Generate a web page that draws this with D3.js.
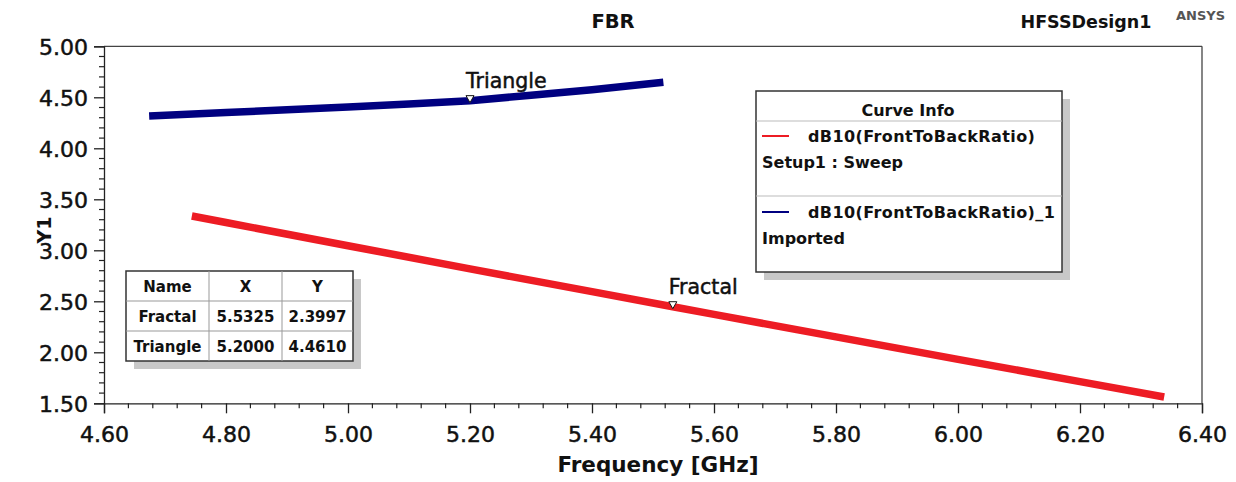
<!DOCTYPE html>
<html><head><meta charset="utf-8">
<script src="https://cdn.jsdelivr.net/npm/d3@7"></script>
<style>body{margin:0;background:#fff}svg{display:block}text{font-family:"DejaVu Sans",sans-serif}</style>
</head><body><svg id="c" width="1236" height="482"></svg>
<script>
// ---- data ----
const fractalX = [4.744, 4.80, 5.00, 5.20, 5.40, 5.5325, 5.60, 5.80, 6.00, 6.20, 6.338];
const fractalY = [3.336, 3.272, 3.045, 2.818, 2.595, 2.447, 2.372, 2.151, 1.931, 1.713, 1.562];
const triangleX = [4.674, 4.80, 4.90, 5.00, 5.10, 5.20, 5.30, 5.40, 5.517];
const triangleY = [4.317, 4.35, 4.377, 4.405, 4.435, 4.467, 4.52, 4.575, 4.648];
const xTicks = [4.60, 4.80, 5.00, 5.20, 5.40, 5.60, 5.80, 6.00, 6.20, 6.40];
const yTicks = [1.50, 2.00, 2.50, 3.00, 3.50, 4.00, 4.50, 5.00];
const markerNames = ["Fractal", "Triangle"];
const markerX = [5.5325, 5.2000];
const markerYText = ["2.3997", "4.4610"];
const markerXText = ["5.5325", "5.2000"];
const legendNames = ["dB10(FrontToBackRatio)", "dB10(FrontToBackRatio)_1"];
const legendSources = ["Setup1 : Sweep", "Imported"];
const seriesColors = ["#ed1c24", "#000080"];

const svg = d3.select("#c");
const L = 104, R = 1202, T = 46.3, B = 403.3;
const x = d3.scaleLinear().domain([4.6, 6.4]).range([L, R]);
const y = d3.scaleLinear().domain([1.5, 5.0]).range([B, T]);

// titles
svg.append("text").attr("x", 613).attr("y", 28).attr("text-anchor", "middle")
  .attr("font-size", 19.5).attr("font-weight", "bold").attr("fill", "#111").text("FBR");
svg.append("text").attr("x", 1086).attr("y", 28).attr("text-anchor", "middle")
  .attr("font-size", 17.5).attr("font-weight", "bold").attr("fill", "#111").text("HFSSDesign1");
svg.append("text").attr("x", 1176).attr("y", 20).attr("font-size", 13)
  .attr("font-weight", "bold").attr("fill", "#555").text("ANSYS");

// frame
svg.append("line").attr("x1", L).attr("x2", R).attr("y1", T).attr("y2", T).attr("stroke", "#444").attr("stroke-width", 1.3);
svg.append("line").attr("x1", R).attr("x2", R).attr("y1", T).attr("y2", B).attr("stroke", "#444").attr("stroke-width", 1.3);

// minor ticks
const xMinor = d3.range(4.6, 6.4001, 0.04).filter(v => Math.abs(Math.round(v * 5) - v * 5) > 1e-6);
const yMinor = d3.range(1.5, 5.0001, 0.1).filter(v => Math.abs(Math.round(v * 2) - v * 2) > 1e-6);
svg.append("g").selectAll("line").data(xMinor).join("line")
  .attr("x1", d => x(d)).attr("x2", d => x(d)).attr("y1", B).attr("y2", B + 5).attr("stroke", "#222").attr("stroke-width", 1.2);
svg.append("g").selectAll("line").data(yMinor).join("line")
  .attr("x1", L - 5).attr("x2", L).attr("y1", d => y(d)).attr("y2", d => y(d)).attr("stroke", "#222").attr("stroke-width", 1.2);

// axes
const xAxis = svg.append("g").attr("transform", `translate(0,${B})`)
  .call(d3.axisBottom(x).tickValues(xTicks).tickFormat(d3.format(".2f")).tickSize(10).tickPadding(8));
const yAxis = svg.append("g").attr("transform", `translate(${L},0)`)
  .call(d3.axisLeft(y).tickValues(yTicks).tickFormat(d3.format(".2f")).tickSize(10).tickPadding(6));
[xAxis, yAxis].forEach(g => {
  g.select(".domain").attr("stroke", "#222").attr("stroke-width", 1.3);
  g.selectAll(".tick line").attr("stroke", "#222").attr("stroke-width", 1.3);
  g.selectAll(".tick text").attr("font-family", "DejaVu Sans").attr("font-size", 22).attr("fill", "#111")
    .attr("stroke", "#111").attr("stroke-width", 0.5);
});
yAxis.selectAll(".tick text").attr("dy", "0.36em");
xAxis.selectAll(".tick text").attr("dy", "0.95em");

svg.append("text").attr("x", 658).attr("y", 472).attr("text-anchor", "middle")
  .attr("font-size", 21.5).attr("font-weight", "bold").attr("fill", "#111").text("Frequency [GHz]");
svg.append("text").attr("transform", "translate(51,230) rotate(-90)").attr("text-anchor", "middle")
  .attr("font-size", 19).attr("font-weight", "bold").attr("fill", "#111").text("Y1");

// curves
const line = d3.line().x(d => x(d[0])).y(d => y(d[1]));
const series = [d3.zip(fractalX, fractalY), d3.zip(triangleX, triangleY)];
svg.append("g").selectAll("path").data(series).join("path")
  .attr("d", line).attr("fill", "none").attr("stroke", (d, i) => seriesColors[i])
  .attr("stroke-width", 7.5).attr("stroke-linecap", "butt");

// markers (placed on the curve at marker X)
const interp = (xs, ys, v) => { const i = d3.bisectRight(xs, v) - 1; const t = (v - xs[i]) / (xs[i + 1] - xs[i]); return ys[i] + t * (ys[i + 1] - ys[i]); };
const markerYPos = [interp(fractalX, fractalY, markerX[0]), interp(triangleX, triangleY, markerX[1])];
markerX.forEach((mx, i) => {
  const px = x(mx), py = y(markerYPos[i]);
  svg.append("path").attr("d", `M${px - 4},${py - 5}L${px + 4},${py - 5}L${px},${py + 2}Z`)
    .attr("fill", "#fff").attr("stroke", "#111").attr("stroke-width", 1);
  svg.append("text").attr("x", px - 4).attr("y", py - 13).attr("font-size", 20.5).attr("fill", "#111")
    .attr("stroke", "#111").attr("stroke-width", 0.5).text(markerNames[i]);
});

// legend
const lg = svg.append("g");
lg.append("rect").attr("x", 764).attr("y", 99).attr("width", 306).attr("height", 181).attr("fill", "#c8c8c8");
lg.append("rect").attr("x", 756).attr("y", 91).attr("width", 306).attr("height", 181).attr("fill", "#fff").attr("stroke", "#333").attr("stroke-width", 1.5);
lg.append("text").attr("x", 908).attr("y", 116).attr("text-anchor", "middle").attr("font-size", 16).attr("font-weight", "bold").attr("fill", "#111").text("Curve Info");
lg.append("line").attr("x1", 756).attr("x2", 1062).attr("y1", 121).attr("y2", 121).attr("stroke", "#bbb");
lg.append("line").attr("x1", 756).attr("x2", 1062).attr("y1", 196).attr("y2", 196).attr("stroke", "#bbb");
legendNames.forEach((n, i) => {
  const oy = 136 + i * 76;
  lg.append("line").attr("x1", 762).attr("x2", 789).attr("y1", oy).attr("y2", oy).attr("stroke", seriesColors[i]).attr("stroke-width", 2);
  lg.append("text").attr("x", 808).attr("y", oy + 6).attr("font-size", 16).attr("letter-spacing", 0.4).attr("font-weight", "bold").attr("fill", "#111").text(n);
  lg.append("text").attr("x", 762).attr("y", oy + 32).attr("font-size", 16).attr("font-weight", "bold").attr("fill", "#111").text(legendSources[i]);
});

// marker table
const tb = svg.append("g");
const cols = [126, 209, 282, 353], rows = [271, 301, 331, 361];
tb.append("rect").attr("x", cols[0] + 8).attr("y", rows[0] + 8).attr("width", cols[3] - cols[0]).attr("height", rows[3] - rows[0]).attr("fill", "#c8c8c8");
tb.append("rect").attr("x", cols[0]).attr("y", rows[0]).attr("width", cols[3] - cols[0]).attr("height", rows[3] - rows[0]).attr("fill", "#fff").attr("stroke", "#333").attr("stroke-width", 1.5);
[cols[1], cols[2]].forEach(cx => tb.append("line").attr("x1", cx).attr("x2", cx).attr("y1", rows[0]).attr("y2", rows[3]).attr("stroke", "#999"));
[rows[1], rows[2]].forEach(ry => tb.append("line").attr("x1", cols[0]).attr("x2", cols[3]).attr("y1", ry).attr("y2", ry).attr("stroke", "#999"));
const cells = [["Name", "X", "Y"]].concat(markerNames.map((n, i) => [n, markerXText[i], markerYText[i]]));
cells.forEach((r, ri) => r.forEach((c, ci) => {
  tb.append("text").attr("x", (cols[ci] + cols[ci + 1]) / 2).attr("y", rows[ri] + 21)
    .attr("text-anchor", "middle").attr("font-size", 15).attr("font-weight", "bold").attr("fill", "#111").text(c);
}));
</script></body></html>
